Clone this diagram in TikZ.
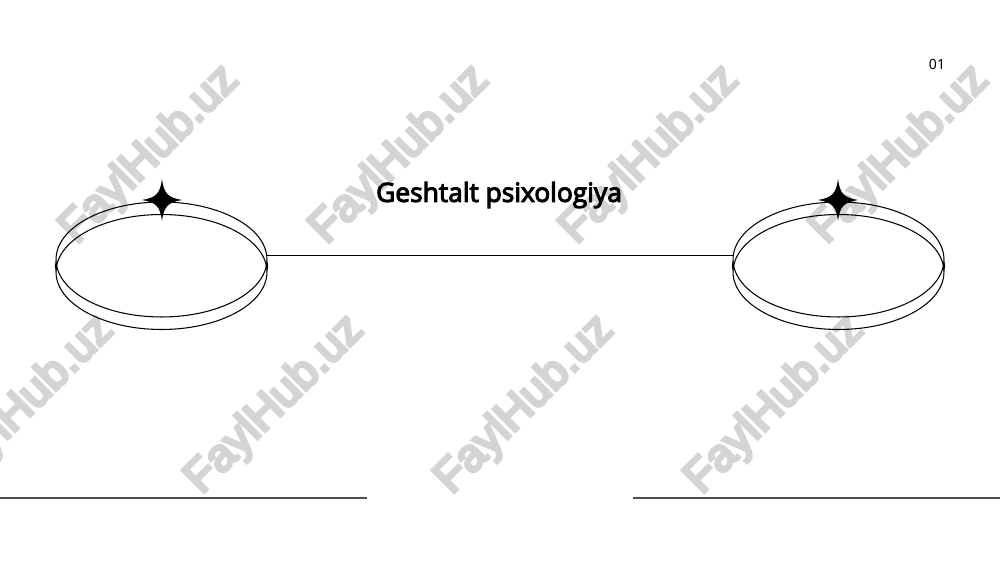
\documentclass[tikz,border=0pt]{standalone}
\usepackage{fontspec}
\setmainfont{Noto Sans}
\newfontfamily\titlefont{Open Sans}[FakeBold=4]
\newfontfamily\markfont{Liberation Sans}[FakeBold=7]
\usetikzlibrary{shapes.geometric,positioning,calc}

\tikzset{
    ring/.style={draw, ellipse, line width=0.6pt, minimum width=4.22cm, minimum height=2.3cm, inner sep=0pt},
    rule/.style={draw=black!70, line width=0.9pt},
    watermark/.style={text=black!17, font=\markfont\fontsize{26}{26}\selectfont, rotate=45},
    sparkle/.pic={
        \fill (0,-21) .. controls (2,-6) and (6,-2.5) .. (20,0) .. controls (6,2.5) and (2,6) .. (0,21)
              .. controls (-2,6) and (-6,2.5) .. (-20,0) .. controls (-6,-2.5) and (-2,-6) .. cycle;
    },
    tick/.pic={\fill (0,-6) -- (1.2,0) -- (0,6) -- (-1.2,0) -- cycle;},
}

\begin{document}
\begin{tikzpicture}[x=0.02cm, y=-0.02cm]
    \useasboundingbox (0,0) rectangle (1000,563);

    % watermarks
    \foreach \wx in {150,400,650,900}
        \node[watermark] at (\wx,155) {FaylHub.uz};
    \foreach \wx in {25,275,525,775}
        \node[watermark] at (\wx,405) {FaylHub.uz};

    % rings
    \node[ring] (lefttop) at (161.5,259.5) {};
    \node[ring] (leftbot) at (161.5,272) {};
    \node[ring] (righttop) at (838.5,259.5) {};
    \node[ring] (rightbot) at (838.5,272) {};
    \pic at (162,200) {sparkle};
    \pic at (838,200) {sparkle};
    \foreach \tx in {56,267,733,944}
        \pic at (\tx,266) {tick};

    \draw[line width=0.6pt] (lefttop.2.5) -- (lefttop.2.5 -| righttop.west);

    \node[font=\titlefont\fontsize{15}{17}\selectfont] (title) at (499,195) {Geshtalt psixologiya};
    \node[font=\fontsize{8}{10}\selectfont] (pagenum) at (937,64) {01};

    % bottom rules
    \coordinate (ruleA) at (0,498);
    \coordinate (ruleB) at (367,498);
    \coordinate (ruleC) at (633,498);
    \coordinate (ruleD) at (1000,498);
    \draw[rule] (ruleA) -- (ruleB);
    \draw[rule] (ruleC) -- (ruleD);
\end{tikzpicture}
\end{document}
